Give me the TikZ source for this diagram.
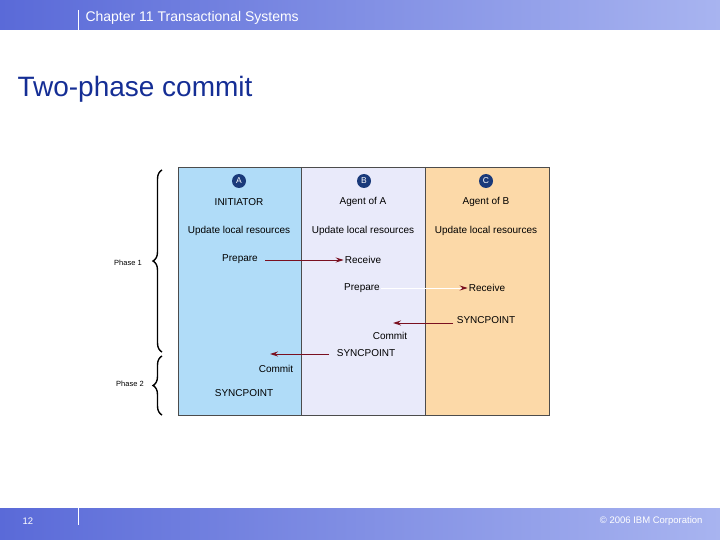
\documentclass[tikz,border=0pt]{standalone}
\usepackage{fontspec}
\setmainfont{Liberation Sans}
\usetikzlibrary{decorations.pathreplacing,arrows.meta}
\definecolor{barA}{HTML}{5A6AD8}
\definecolor{barB}{HTML}{A8B4F0}
\definecolor{colA}{HTML}{B0DCF8}
\definecolor{colB}{HTML}{E9EAFA}
\definecolor{colC}{HTML}{FCD9A8}
\definecolor{navy}{HTML}{1A3A7A}
\definecolor{arr}{HTML}{7A1020}
\begin{document}
\begin{tikzpicture}[x=1pt,y=-1pt,
  lane/.style={draw=black!70,line width=0.6pt},
  badge/.style={circle,fill=navy,text=white,inner sep=0pt,minimum size=14pt,font=\fontsize{8.5}{9}\selectfont},
  lbl/.style={font=\fontsize{10}{11}\selectfont,inner sep=1pt},
  msg/.style={arr,line width=1pt,-{Stealth[length=8pt,width=5pt]}},
  brace/.style={decorate,decoration={brace,amplitude=9pt},line width=1.4pt}]
\useasboundingbox (0,0) rectangle (720,540);
\fill[white] (0,0) rectangle (720,540);
\shade[left color=barA,right color=barB] (0,0) rectangle (720,30);
\shade[left color=barA,right color=barB] (0,508) rectangle (720,540);
\draw[white,line width=0.8pt] (78,10) -- (78,30);
\draw[white,line width=0.8pt] (78,508) -- (78,525);
\node[anchor=west,text=white,font=\fontsize{14}{15}\selectfont] (hdr) at (82,18) {Chapter 11 Transactional Systems};
\node[anchor=west,text=white,font=\fontsize{9.5}{10}\selectfont] (pg) at (19,521) {12};
\node[anchor=east,text=white,font=\fontsize{9.5}{10}\selectfont] (copy) at (706,521) {© 2006 IBM Corporation};
\node[anchor=west,text=navy!80!blue,font=\fontsize{28}{30}\selectfont] (title) at (14,89) {Two-phase commit};
\fill[colA] (178,167) rectangle (301,415);
\fill[colB] (301,167) rectangle (425,415);
\fill[colC] (425,167) rectangle (549,415);
\draw[lane] (178,167) rectangle (549,415);
\draw[lane] (301,167) -- (301,415);
\draw[lane] (425,167) -- (425,415);
\node[badge] (ca) at (239,181) {A};
\node[badge] (cb) at (364,181) {B};
\node[badge] (cc) at (486,181) {C};
\node[lbl] (ia) at (239,202) {INITIATOR};
\node[lbl] (ib) at (363,202) {Agent of A};
\node[lbl] (ic) at (486,202) {Agent of B};
\node[lbl] (ua) at (239,231) {Update local resources};
\node[lbl] (ub) at (363,231) {Update local resources};
\node[lbl] (uc) at (486,231) {Update local resources};
\node[lbl] (pa) at (240,259) {Prepare};
\node[lbl] (rb) at (363,260) {Receive};
\node[lbl] (pb) at (362,288) {Prepare};
\node[lbl] (rc) at (487,288) {Receive};
\node[lbl] (sc) at (486,320) {SYNCPOINT};
\node[lbl] (cmb) at (390,336) {Commit};
\node[lbl] (sb) at (366,353) {SYNCPOINT};
\node[lbl] (cma) at (276,369) {Commit};
\node[lbl] (sa) at (244,393) {SYNCPOINT};
\coordinate (e1) at (265,260);
\coordinate (e2) at (453,323);
\coordinate (e3) at (329,354);
\draw[msg] (e1) -- (rb.west);
\draw[white,line width=1pt] (pb.east) -- (465,288);
\draw[msg] (465,288) -- (rc.west);
\draw[msg] (e2) -- (393,323);
\draw[msg] (e3) -- (270,354);
\draw[brace] (162,352) -- (162,170);
\draw[brace] (162,415) -- (162,356);
\node[lbl,font=\fontsize{7.5}{8}\selectfont] (ph1) at (128,263) {Phase 1};
\node[lbl,font=\fontsize{7.5}{8}\selectfont] (ph2) at (130,384) {Phase 2};
\end{tikzpicture}
\end{document}
